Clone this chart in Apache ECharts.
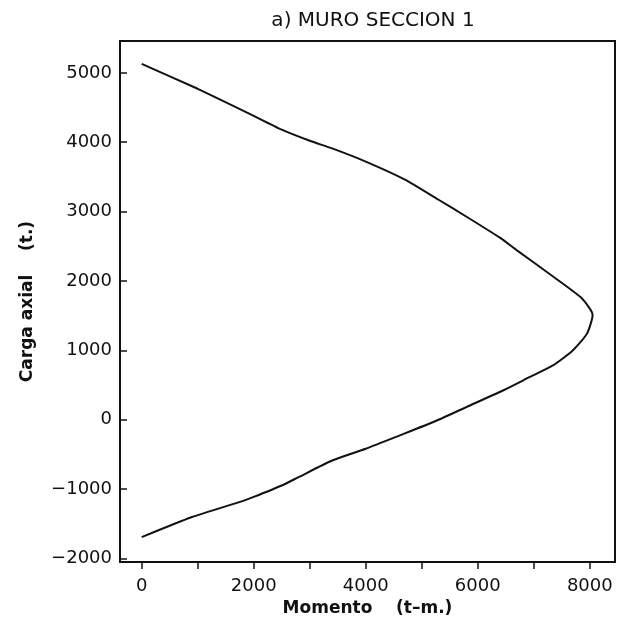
<!DOCTYPE html>
<html>
<head>
<meta charset="utf-8">
<title>Muro seccion 1</title>
<script src="https://cdn.jsdelivr.net/npm/echarts@6/dist/echarts.min.js"></script>
<style>
  html, body { margin: 0; padding: 0; background: #fff; }
  #main { width: 617px; height: 627px; }
</style>
</head>
<body>
<div id="main"></div>
<script>
// diagrama de interaccion
var momento = [0, 1000, 1900, 2500, 3000, 3400, 4000, 4700, 5300, 5800, 6400, 6700, 7350, 7830, 8000, 8050,
               7950, 7700, 7350, 6930, 6450, 5850, 5250, 4600, 4000, 3400, 2800, 2500, 2000, 1800, 900, 0];
var carga   = [5130, 4770, 4420, 4180, 4020, 3910, 3720, 3460, 3170, 2925, 2620, 2440, 2060, 1770, 1600, 1510,
               1240, 1000, 785, 615, 420, 200, -20, -230, -420, -590, -830, -950, -1115, -1175, -1405, -1695];
var xTicks = [0, 1000, 2000, 3000, 4000, 5000, 6000, 7000, 8000];
var xLabels = [0, 2000, 4000, 6000, 8000];
var yTicks = [-2000, -1000, 0, 1000, 2000, 3000, 4000, 5000];

var puntos = [];
for (var i = 0; i < momento.length; i++) {
  puntos.push([momento[i], carga[i]]);
}

var fuente = 'DejaVu Sans';
var chart = echarts.init(document.getElementById('main'));

chart.setOption({
  animation: false,
  title: {
    text: 'a) MURO SECCION 1',
    left: 368,
    top: 6,
    textAlign: 'center',
    textStyle: { fontFamily: fuente, fontSize: 20, fontWeight: 'normal', color: '#111' }
  },
  grid: {
    left: 120, right: 2, top: 41, bottom: 65,
    show: true, borderColor: '#111', borderWidth: 2
  },
  xAxis: {
    type: 'value',
    min: -387, max: 8450,
    name: 'Momento    (t\u2013m.)',
    nameLocation: 'middle',
    nameGap: 37,
    nameTextStyle: { fontFamily: fuente, fontSize: 17, fontWeight: 'bold', color: '#111' },
    axisLine: { show: true, onZero: false, lineStyle: { color: '#111', width: 2 } },
    axisTick: { show: true, inside: false, length: 7, customValues: xTicks, lineStyle: { color: '#111', width: 1.5 } },
    axisLabel: {
      customValues: xLabels, margin: 15, fontFamily: fuente, fontSize: 18, color: '#111',
      formatter: function (v) { return String(v); }
    },
    splitLine: { show: false }
  },
  yAxis: {
    type: 'value',
    min: -2053, max: 5459,
    name: 'Carga axial    (t.)',
    nameLocation: 'middle',
    nameGap: 84,
    nameTextStyle: { fontFamily: fuente, fontSize: 17, fontWeight: 'bold', color: '#111' },
    axisLine: { show: true, onZero: false, lineStyle: { color: '#111', width: 2 } },
    axisTick: { show: true, inside: true, length: 7, customValues: yTicks, lineStyle: { color: '#111', width: 1.5 } },
    axisLabel: {
      customValues: yTicks, margin: 8, fontFamily: fuente, fontSize: 18, color: '#111',
      formatter: function (v) { return v < 0 ? '\u2212' + Math.abs(v) : String(v); }
    },
    splitLine: { show: false }
  },
  series: [{
    type: 'line',
    data: puntos,
    showSymbol: false,
    smooth: 0.2,
    lineStyle: { color: '#111', width: 2 }
  }]
});
</script>
</body>
</html>
